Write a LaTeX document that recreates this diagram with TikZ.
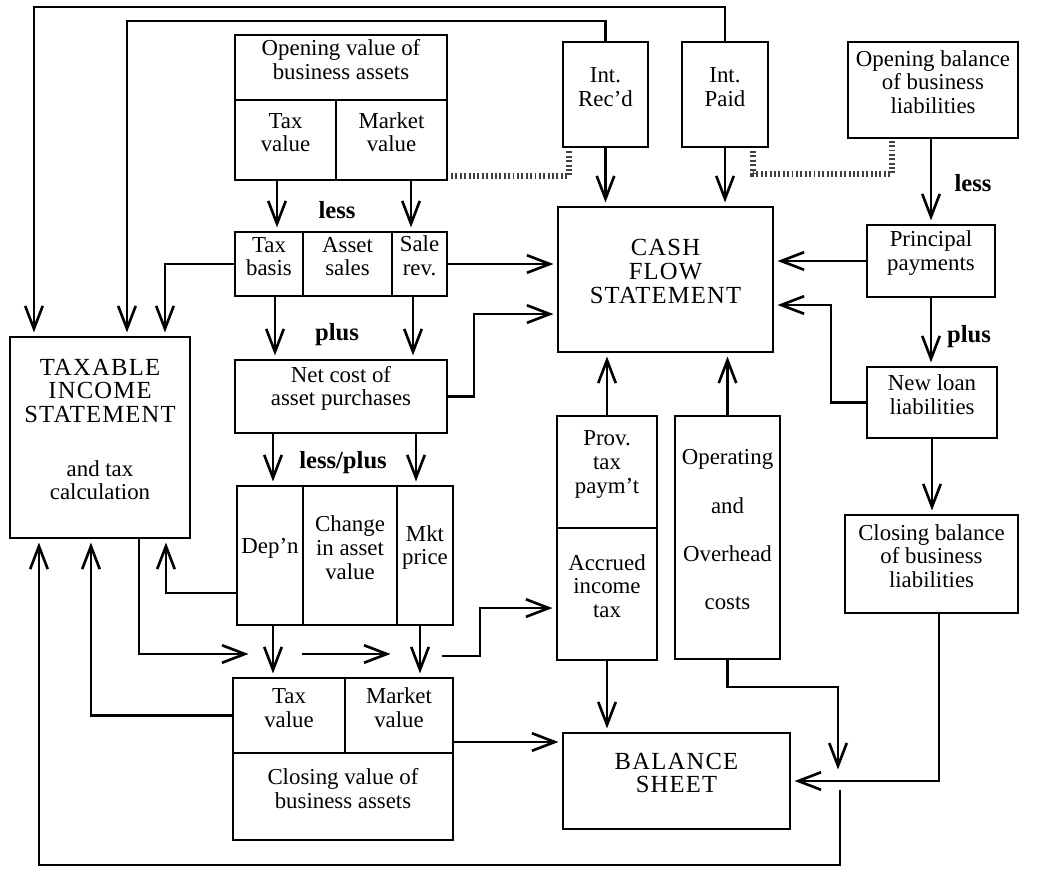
\documentclass[tikz,border=0pt]{standalone}
\usepackage{fontspec}
\setmainfont{Liberation Serif}
\newfontfamily\capsfont[LetterSpace=5]{Liberation Serif}
\newcommand{\plainsz}{\normalfont\fontsize{13}{13.5}\selectfont}
\usetikzlibrary{arrows.meta,calc,fit}

\begin{document}
\begin{tikzpicture}[x=0.02cm, y=-0.02cm,
  box/.style={draw, line width=1.2pt, inner sep=0pt, align=center,
              font=\fontsize{13}{13.5}\selectfont},
  head/.style={box, font=\capsfont\fontsize{14}{13.5}\selectfont},
  flow/.style={-{Straight Barb[length=13pt,width=10pt]}, line width=1.5pt, shorten >=2pt},
  hatch/.style={line width=3.6pt, dash pattern=on 1.1pt off 1.4pt, black!75},
  op/.style={font=\bfseries\fontsize{14}{14}\selectfont},
]
\useasboundingbox (0,0) rectangle (1054,872);

% asset column
\node[box, fit={(235,35)(447,100)}] (ovb) {Opening value of\\business assets};
\node[box, fit={(235,100)(336,180)}] (otv) {Tax\\value};
\node[box, fit={(336,100)(447,180)}] (omv) {Market\\value};
\node[box, fit={(235,232)(303,296)}] (tb) {Tax\\basis};
\node[box, fit={(303,232)(392,296)}] (asl) {Asset\\sales};
\node[box, fit={(392,232)(447,296)}] (srv) {Sale\\rev.};
\node[box, fit={(235,360)(447,433)}] (ncp) {Net cost of\\asset purchases};
\node[box, fit={(237,486)(303,625)}] (dep) {Dep'n};
\node[box, fit={(303,486)(397,625)}] (cav) {Change\\in asset\\value};
\node[box, fit={(397,486)(453,625)}] (mkp) {Mkt\\price};
\node[box, fit={(233,678)(345,753)}] (ctv) {Tax\\value};
\node[box, fit={(345,678)(453,753)}] (cmv) {Market\\value};
\node[box, fit={(233,753)(453,840)}] (cva) {Closing value of\\business assets};

% statements
\node[head, fit={(10,337)(190,538)}] (tis)
  {TAXABLE\\INCOME\\STATEMENT\\[17pt]\plainsz and tax\\\plainsz calculation};
\node[head, fit={(558,207)(773,352)}] (cfs) {CASH\\FLOW\\STATEMENT};
\node[head, fit={(563,733)(790,829)}] (bal) {BALANCE\\SHEET};

% interest, tax and costs
\node[box, fit={(563,42)(648,147)}] (ird) {Int.\\Rec'd};
\node[box, fit={(682,42)(768,147)}] (ipd) {Int.\\Paid};
\node[box, fit={(557,416)(657,528)}] (ptx) {Prov.\\tax\\paym't};
\node[box, fit={(557,528)(657,660)}] (ait) {Accrued\\income\\tax};
\node[box, fit={(675,416)(780,659)}] (ooc) {Operating\\[14pt]and\\[14pt]Overhead\\[14pt]costs};

% liabilities column
\node[box, fit={(848,42)(1018,138)}] (obl) {Opening balance\\of business\\liabilities};
\node[box, fit={(867,225)(995,297)}] (ppm) {Principal\\payments};
\node[box, fit={(867,367)(997,438)}] (nll) {New loan\\liabilities};
\node[box, fit={(845,515)(1018,613)}] (cbl) {Closing balance\\of business\\liabilities};

% operators
\node[op] (lss1) at (337,210) {less};
\node[op] (pls1) at (337,335) {plus};
\node[op] (lsp) at (343,463) {less/plus};
\node[op] (lss2) at (973,183) {less};
\node[op] (pls2) at (969,337) {plus};

% free ends
\coordinate (tx1) at (252,654);
\coordinate (tx2) at (302,654);
\coordinate (tx3) at (394,654);
\coordinate (tx4) at (442,656);
\coordinate (oj) at (838,773);
\coordinate (lp) at (840,790);

% interest lines over the top
\draw[flow] (ipd.north) -- ++(0,-34) -| ($(tis.north west)+(25,0)$);
\draw[flow] (ird.north) -- ++(0,-20) -| ($(tis.north west)+(118,0)$);
\draw[flow] (tb.west) -| ($(tis.north west)+(156,0)$);

% asset flows
\draw[flow] (277,0 |- otv.south) -- (277,0 |- tb.north);
\draw[flow] (411,0 |- omv.south) -- (411,0 |- srv.north);
\draw[flow] (275,0 |- tb.south) -- (275,0 |- ncp.north);
\draw[flow] (413,0 |- srv.south) -- (413,0 |- ncp.north);
\draw[flow] (273,0 |- ncp.south) -- (273,0 |- dep.north);
\draw[flow] (416,0 |- ncp.south) -- (416,0 |- mkp.north);
\draw[flow] (273,0 |- dep.south) -- (273,0 |- ctv.north);
\draw[flow] (420,0 |- mkp.south) -- (420,0 |- cmv.north);
\draw[flow] (srv.east) -- (srv.east -| cfs.west);
\draw[flow] (ncp.east) -- ++(26,0) |- ($(cfs.south west)+(0,-39)$);
\draw[flow] (dep.west |- 0,593) -| ($(tis.south west)+(157,0)$);
\draw[flow] (ctv.west) -| ($(tis.south west)+(82,0)$);
\draw[flow] (cmv.east |- 0,742) -- (bal.west |- 0,742);
\draw[flow] ($(tis.south west)+(130,0)$) |- (tx1);
\draw[flow] (tx2) -- (tx3);
\draw[flow] (tx4) -- ++(38,0) |- ($(ait.south west)+(0,-53)$);

% cash flow and balance sheet
\draw[flow] (ird.south) -- (ird.south |- cfs.north);
\draw[flow] (ipd.south) -- (ipd.south |- cfs.north);
\draw[flow] (ptx.north) -- (ptx.north |- cfs.south);
\draw[flow] (ooc.north) -- (ooc.north |- cfs.south);
\draw[flow] (ait.south) -- (ait.south |- bal.north);
\draw[flow] (ooc.south) -- ++(0,27) -| (oj);
\draw[flow] (lp) -- ++(0,75) -| ($(tis.south west)+(30,0)$);

% liabilities
\draw[flow] (ppm.north |- obl.south) -- (ppm.north);
\draw[flow] (ppm.west) -- (ppm.west -| cfs.east);
\draw[flow] (ppm.south) -- (ppm.south |- nll.north);
\draw[flow] (nll.west) -- ++(-35,0) |- (cfs.east |- 0,305);
\draw[flow] (nll.south) -- (nll.south |- cbl.north);
\draw[flow] ($(cbl.south west)+(95,0)$) |- (bal.east);

% hatched links
\draw[hatch] ($(omv.south east)+(3,-5)$) -| ($(ird.south west)+(7,3)$);
\draw[hatch] ($(ipd.south east)+(-16,3)$) |- ($(obl.south west)+(45,35)$) -- ($(obl.south west)+(45,2)$);

\end{tikzpicture}
\end{document}
